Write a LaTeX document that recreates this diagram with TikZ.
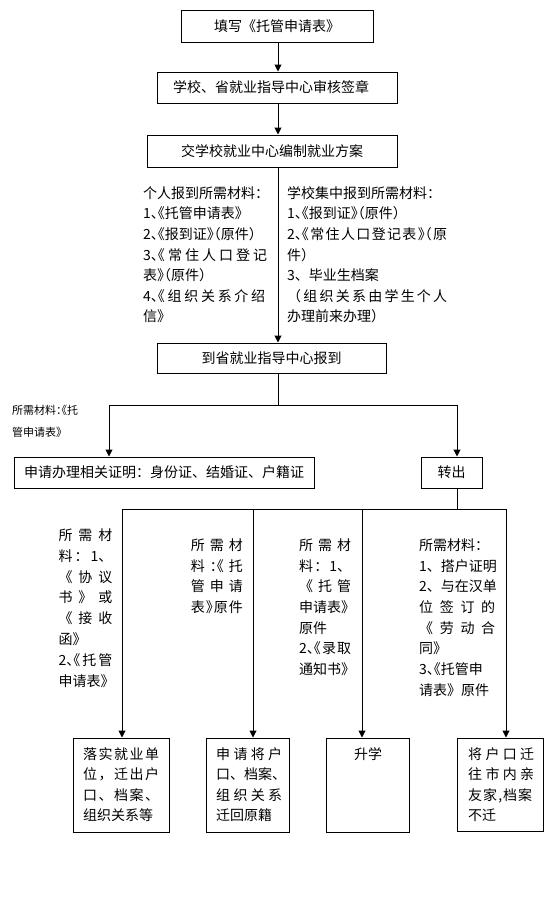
\documentclass[tikz,border=0pt]{standalone}
\usepackage{fontspec}
\setmainfont{Noto Sans CJK SC}
\newfontfamily\halffont[RawFeature=+halt]{Noto Sans CJK SC}
\usetikzlibrary{arrows.meta}
\makeatletter
\newcommand\spr[2]{\hbox to #1{\def\sprsep{}\@tfor\sprx:=#2\do{\sprsep\sprx\def\sprsep{\hss}}}}
\makeatother
\newcommand\cpair[1]{{\halffont #1}}
\begin{document}
\begin{tikzpicture}[x=1pt,y=-1pt,
  box/.style={draw, line width=1pt, inner sep=0pt, font=\fontsize{14}{17}\selectfont},
  txt/.style={inner sep=0pt, anchor=base west, font=\fontsize{14}{17}\selectfont},
  smalltxt/.style={inner sep=0pt, anchor=base west, font=\fontsize{11}{13}\selectfont},
  arr/.style={line width=1pt, -{Triangle[width=7pt,length=7pt]}},
  ln/.style={line width=1pt}]
\useasboundingbox (0,0) rectangle (554,910);

% boxes
\node[box, minimum width=192pt, minimum height=32pt] (b1) at (277,26) {填写《托管申请表》};
\node[box, minimum width=240pt, minimum height=31pt] (b2) at (277,87.5) {学校、省就业指导中心审核签章\hspace*{12pt}};
\node[box, minimum width=250pt, minimum height=32pt] (b3) at (272,151) {交学校就业中心编制就业方案};
\node[box, minimum width=229pt, minimum height=30pt] (b4) at (271.5,358) {到省就业指导中心报到};
\node[box, minimum width=300pt, minimum height=31pt] (b5) at (164,472.5) {申请办理相关证明：身份证、结婚证、户籍证};
\node[box, minimum width=61pt, minimum height=31pt] (b6) at (451.5,472.5) {转出};
\node[box, minimum width=96pt, minimum height=94pt] (bA) at (121,785) {};
\node[box, minimum width=83pt, minimum height=94pt] (bB) at (247.5,785) {};
\node[box, minimum width=83pt, minimum height=94pt] (bC) at (367.5,785) {};
\node[box, minimum width=86pt, minimum height=93pt] (bD) at (500,784.5) {};

% connectors
\coordinate (cx) at (278,0);
\draw[arr] (b1.south -| cx) -- (b2.north -| cx);
\draw[arr] (b2.south -| cx) -- (b3.north -| cx);
\draw[arr] (b3.south -| cx) -- (b4.north -| cx);
\coordinate (j1) at (278,405);
\coordinate (ja) at (109,405);
\coordinate (jb) at (457,405);
\draw[ln] (b4.south -| cx) -- (j1);
\draw[arr] (j1) -- (ja) -- (ja |- b5.north);
\draw[arr] (j1) -- (jb) -- (jb |- b6.north);
\coordinate (j2) at (457,509);
\coordinate (k1) at (122,509);
\coordinate (k2) at (253,509);
\coordinate (k3) at (362,509);
\coordinate (k4) at (506,509);
\draw[ln] (b6.south -| j2) -- (j2);
\draw[ln] (k1) -- (k4);
\draw[arr] (k1) -- (k1 |- bA.north);
\draw[arr] (k2) -- (k2 |- bB.north);
\draw[arr] (k3) -- (k3 |- bC.north);
\draw[arr] (k4) -- (k4 |- bD.north);

% left column
\foreach \t [count=\i] in {
 个人报到所需材料：,
 1\cpair{、《}托管申请表》,
 2\cpair{、《}报到证\cpair{》（}原件）,
 \spr{124pt}{{3\cpair{、《}}常住人口登记},
 表\cpair{》（}原件）,
 \spr{122pt}{{4\cpair{、《}}组织关系介绍},
 信》}
 \node[txt] (pl\i) at (143,{198.3+20.6*(\i-1)}) {\t};

% right column
\foreach \t [count=\i] in {
 学校集中报到所需材料：,
 1\cpair{、《}报到证\cpair{》（}原件）,
 \spr{160pt}{{2\cpair{、《}}常住人口登记表{\cpair{》（}}原},
 件）,
 3、毕业生档案,
 \spr{160pt}{（组织关系由学生个人},
 办理前来办理）}
 \node[txt] (pr\i) at (287,{198.3+20.6*(\i-1)}) {\t};

% small label
\foreach \t [count=\i] in {所需材料\cpair{：《}托, 管申请表》}
 \node[smalltxt] (sl\i) at (12,{414.2+22*(\i-1)}) {\t};

% material labels
\foreach \t [count=\i] in {
 \spr{54pt}{所需材},
 \spr{54pt}{料：{1、}},
 \spr{54pt}{《协议},
 \spr{54pt}{书》或},
 \spr{54pt}{《接收},
 函》,
 \spr{54pt}{{2\cpair{、《}}托管},
 申请表》}
 \node[txt] (ma\i) at (58.3,{540.3+20.85*(\i-1)}) {\t};

\foreach \t [count=\i] in {
 \spr{52pt}{所需材},
 \spr{52pt}{料{\cpair{：《}}托},
 \spr{52pt}{管申请},
 \spr{52pt}{表{\cpair{》}}原件}}
 \node[txt] (mb\i) at (190.7,{550.3+20.7*(\i-1)}) {\t};

\foreach \t [count=\i] in {
 \spr{52pt}{所需材},
 \spr{52pt}{料：{1、}},
 \spr{52pt}{《托管},
 申请表》,
 原件,
 \spr{52pt}{{2\cpair{、《}}录取},
 通知书》}
 \node[txt] (mc\i) at (299,{550.3+20.7*(\i-1)}) {\t};

\foreach \t [count=\i] in {
 所需材料：,
 1、搭户证明,
 2、与在汉单,
 \spr{76pt}{位签订的},
 \spr{76pt}{《劳动合},
 同》,
 3\cpair{、《}托管申,
 请表》原件}
 \node[txt] (md\i) at (419,{550.3+20.7*(\i-1)}) {\t};

% texts in bottom boxes
\foreach \t [count=\i] in {
 \spr{76pt}{落实就业单},
 \spr{76pt}{位，迁出户},
 \spr{76pt}{口、档案、},
 组织关系等}
 \node[txt] (ta\i) at (83,{759.3+20.5*(\i-1)}) {\t};

\foreach \t [count=\i] in {
 \spr{66pt}{申请将户},
 口、档案、,
 \spr{66pt}{组织关系},
 迁回原籍}
 \node[txt] (tb\i) at (216,{759.3+20.5*(\i-1)}) {\t};

\node[txt, anchor=base] (tc1) at (368,759.3) {升学};

\foreach \t [count=\i] in {
 \spr{66pt}{将户口迁},
 \spr{66pt}{往市内亲},
 {\spr{64pt}{友家,档案}},
 不迁}
 \node[txt] (td\i) at (468,{759.3+20.5*(\i-1)}) {\t};
\end{tikzpicture}
\end{document}
